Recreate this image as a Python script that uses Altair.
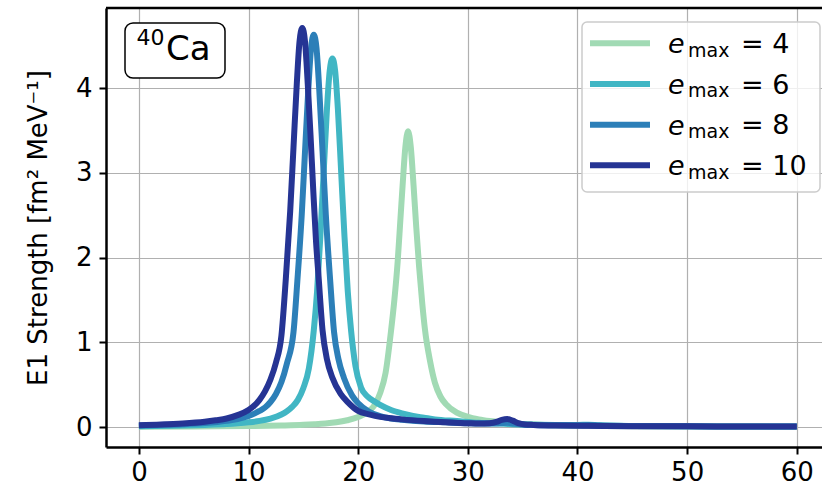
import altair as alt
import pandas as pd

# ---------------- data ----------------
emax_labels = ["4", "6", "8", "10"]
colors = ["#a1dab4", "#41b6c4", "#2c7fb8", "#253494"]

x4 = [0, 5, 10, 13, 15, 16, 17, 18, 19, 20, 21, 21.5, 22, 22.5, 23, 23.3, 23.6, 23.85,
      24.05, 24.3, 24.55, 24.8, 25.05, 25.3, 25.55, 25.85, 26.1, 26.55, 27, 27.5,
      28, 29, 30, 31, 32, 33, 35, 37, 40, 45, 50, 55, 60]
y4 = [0.004, 0.007, 0.011, 0.018, 0.026, 0.033, 0.042, 0.056, 0.08, 0.118, 0.19, 0.26,
      0.4, 0.64, 1.14, 1.5, 1.95, 2.45, 2.85, 3.3, 3.49, 3.3, 2.85, 2.35, 1.9, 1.45,
      1.14, 0.78, 0.52, 0.36, 0.27, 0.17, 0.12, 0.09, 0.07, 0.055, 0.035, 0.025,
      0.015, 0.01, 0.007, 0.005, 0.004]

x6 = [0, 3, 6, 8, 9, 10, 11, 12, 13, 13.5, 14, 14.5, 15, 15.5, 15.95, 16.25, 16.55,
      16.85, 17.15, 17.4, 17.65, 17.9, 18.15, 18.45, 18.75, 19.05, 19.35, 19.75,
      20.25, 20.85, 21.5, 22, 23, 24, 25, 26, 27, 29, 31, 33, 35, 38, 40, 41, 42, 45,
      50, 55, 60]
y6 = [0.01, 0.015, 0.024, 0.034, 0.043, 0.055, 0.072, 0.1, 0.148, 0.186, 0.24, 0.32,
      0.46, 0.69, 1.14, 1.6, 2.25, 3.0, 3.75, 4.2, 4.35, 4.2, 3.75, 3.0, 2.25, 1.6,
      1.14, 0.72, 0.47, 0.36, 0.3, 0.26, 0.2, 0.16, 0.13, 0.11, 0.09, 0.07, 0.05,
      0.04, 0.03, 0.025, 0.025, 0.028, 0.02, 0.012, 0.008, 0.006, 0.005]

x8 = [0, 2, 4, 6, 8, 9, 10, 11, 11.5, 12, 12.5, 13, 13.5, 14.1, 14.45, 14.85, 15.15,
      15.45, 15.7, 15.95, 16.2, 16.45, 16.75, 17.05, 17.45, 17.8, 18.2, 18.7, 19.45,
      20, 21, 22, 23, 24, 26, 28, 30, 32, 33, 33.6, 34.2, 35, 36, 38, 40, 41, 42, 45,
      50, 55, 60]
y8 = [0.018, 0.024, 0.032, 0.046, 0.073, 0.095, 0.13, 0.19, 0.23, 0.295, 0.39, 0.53,
      0.75, 1.12, 1.72, 2.5, 3.25, 3.98, 4.47, 4.63, 4.47, 3.98, 3.25, 2.5, 1.72, 1.12,
      0.8, 0.58, 0.37, 0.28, 0.18, 0.128, 0.1, 0.085, 0.065, 0.055, 0.045, 0.04,
      0.045, 0.05, 0.04, 0.03, 0.025, 0.02, 0.02, 0.024, 0.018, 0.012, 0.008, 0.006,
      0.005]

x10 = [0, 2, 4, 6, 7, 8, 9, 10, 10.5, 11, 11.5, 12, 12.5, 13, 13.4, 13.8, 14.1, 14.4,
       14.65, 14.9, 15.15, 15.4, 15.65, 15.9, 16.15, 16.4, 16.75, 17.15, 17.65, 18.4,
       19, 20, 21, 22, 23, 24, 26, 28, 30, 31, 32, 32.6, 33.1, 33.6, 34.1, 34.6, 35.2,
       36, 38, 40, 45, 50, 55, 60]
y10 = [0.022, 0.029, 0.041, 0.062, 0.079, 0.1, 0.14, 0.2, 0.25, 0.32, 0.42, 0.56,
       0.76, 1.08, 1.75, 2.55, 3.3, 4.05, 4.55, 4.71, 4.55, 4.05, 3.45, 2.8, 2.2, 1.75,
       1.14, 0.8, 0.58, 0.39, 0.3, 0.19, 0.15, 0.12, 0.103, 0.09, 0.07, 0.055, 0.045,
       0.04, 0.045, 0.06, 0.085, 0.095, 0.075, 0.045, 0.03, 0.025, 0.018, 0.015, 0.01,
       0.008, 0.006, 0.005]

x_ticks = [0, 10, 20, 30, 40, 50, 60]
y_ticks = [0, 1, 2, 3, 4]
y_title = "E1 Strength [fm² MeV⁻¹]"
nucleus_mass = "40"
nucleus_symbol = "Ca"

# ---------------- chart ----------------
FONT = "DejaVu Sans"
W, H = 716, 439
xdom = [-3, 62.3]
ydom = [-0.236, 4.945]

xaxis = alt.Axis(values=x_ticks, title=None, grid=True, gridColor="#b0b0b0", gridWidth=1.2,
                 domainColor="black", domainWidth=2.5, tickColor="black", tickWidth=2,
                 tickSize=7, labelFont=FONT, labelFontSize=26, labelColor="black",
                 labelPadding=5, labelFlush=False)
yaxis = alt.Axis(values=y_ticks, title=y_title, grid=True, gridColor="#b0b0b0", gridWidth=1.2,
                 domainColor="black", domainWidth=2.5, tickColor="black", tickWidth=2,
                 tickSize=7, labelFont=FONT, labelFontSize=26, labelColor="black",
                 labelPadding=7, titleFont=FONT, titleFontSize=26, titleFontWeight="normal",
                 titleColor="black", titlePadding=24, labelFlush=False)

xs_scale = alt.Scale(domain=xdom, nice=False, zero=False)
ys_scale = alt.Scale(domain=ydom, nice=False, zero=False)

layers = []
for xs, ys, c in zip([x4, x6, x8, x10], [y4, y6, y8, y10], colors):
    df = pd.DataFrame({"E": xs, "S": ys})
    layers.append(
        alt.Chart(df).mark_line(color=c, strokeWidth=6, interpolate="monotone",
                                strokeCap="butt", strokeJoin="round", clip=True).encode(
            x=alt.X("E:Q", scale=xs_scale, axis=xaxis),
            y=alt.Y("S:Q", scale=ys_scale, axis=yaxis),
        )
    )

one = pd.DataFrame({"a": [0]})

# top frame line
layers.append(alt.Chart(one).mark_rule(color="black", strokeWidth=2.5).encode(
    x=alt.value(0), x2=alt.value(W), y=alt.value(0)))

# nucleus label box
layers.append(alt.Chart(one).mark_rect(fill="white", stroke="black", strokeWidth=1.5,
                                        cornerRadius=8).encode(
    x=alt.value(19), x2=alt.value(119), y=alt.value(15), y2=alt.value(70)))
layers.append(alt.Chart(one).mark_text(text=nucleus_mass, font=FONT, fontSize=22, align="left",
                                        baseline="alphabetic", color="black").encode(
    x=alt.value(30.5), y=alt.value(37)))
layers.append(alt.Chart(one).mark_text(text=nucleus_symbol, font=FONT, fontSize=34, align="left",
                                        baseline="alphabetic", color="black").encode(
    x=alt.value(60), y=alt.value(52)))

# legend
layers.append(alt.Chart(one).mark_rect(fill="white", fillOpacity=0.8, stroke="#cccccc",
                                        strokeWidth=1.5, cornerRadius=5).encode(
    x=alt.value(476), x2=alt.value(714), y=alt.value(14), y2=alt.value(184)))
for i, (lab, c) in enumerate(zip(emax_labels, colors)):
    yc = 35.3 + 40.67 * i
    layers.append(alt.Chart(one).mark_rule(color=c, strokeWidth=6).encode(
        x=alt.value(484), x2=alt.value(544), y=alt.value(yc)))
    layers.append(alt.Chart(one).mark_text(text="e", font=FONT, fontSize=27, fontStyle="italic",
                                            align="left", baseline="alphabetic", color="black").encode(
        x=alt.value(562), y=alt.value(yc + 10)))
    layers.append(alt.Chart(one).mark_text(text="max", font=FONT, fontSize=19,
                                            align="left", baseline="alphabetic", color="black").encode(
        x=alt.value(582), y=alt.value(yc + 13.4)))
    layers.append(alt.Chart(one).mark_text(text="= " + lab, font=FONT, fontSize=27,
                                            align="left", baseline="alphabetic", color="black").encode(
        x=alt.value(635), y=alt.value(yc + 9.6)))

chart = alt.layer(*layers).properties(
    width=W, height=H,
    autosize=alt.AutoSizeParams(type="none"),
    padding={"left": 106, "top": 8, "right": 0, "bottom": 39},
    background="white",
).configure_view(stroke=None)

chart.save("out.html", embed_options={"renderer": "svg", "actions": False})
